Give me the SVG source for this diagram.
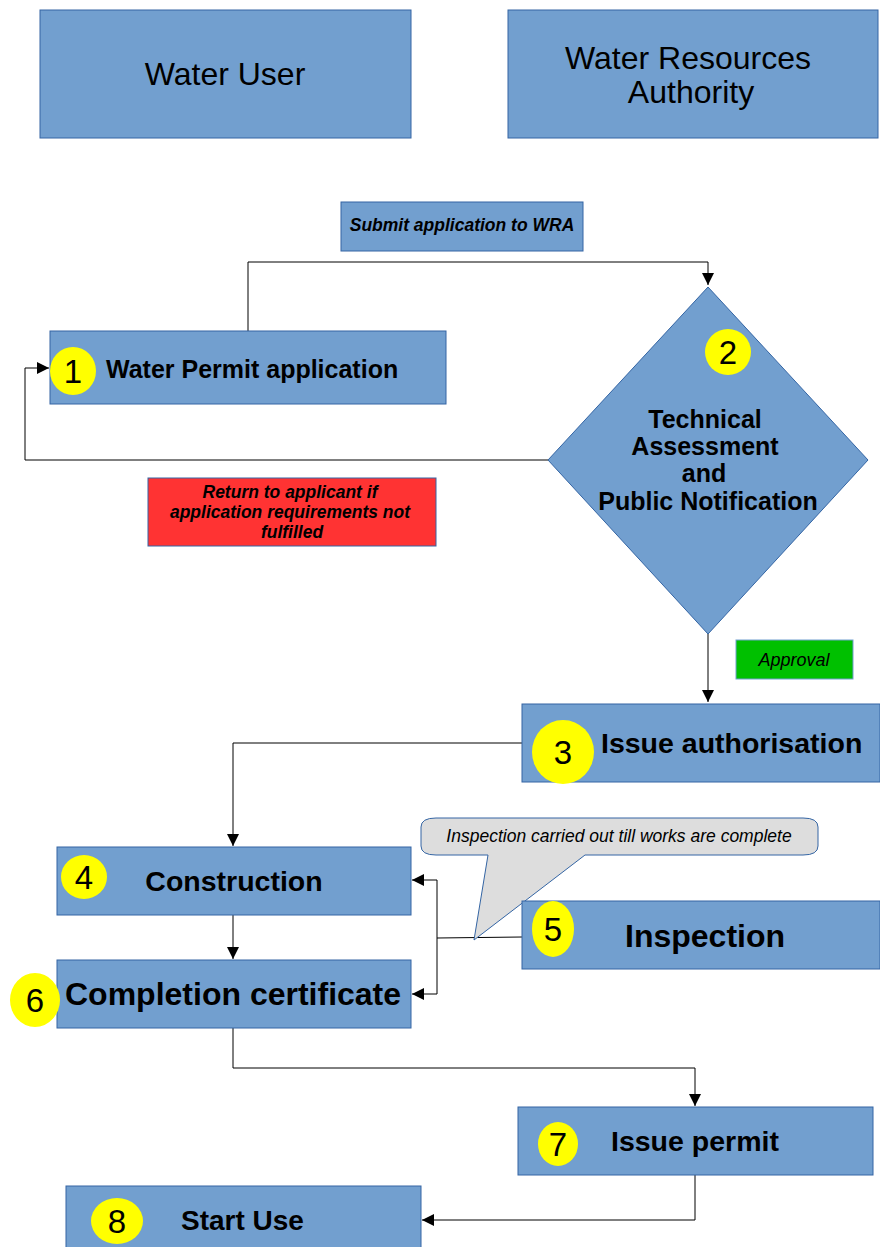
<svg xmlns="http://www.w3.org/2000/svg" width="880" height="1247" viewBox="0 0 880 1247">
<style>
.box{fill:#729fcf;stroke:#3465a4;stroke-width:1}
.num{fill:#ffff00;stroke:none}
text{font-family:"Liberation Sans",Arial,sans-serif;fill:#000}
.b{font-weight:bold}
.it{font-style:italic;font-weight:bold;font-size:17.5px}
.n{font-size:33px}
.ln{fill:none;stroke:#000;stroke-width:1}
</style>
<defs>
<marker id="ah" viewBox="0 0 10 10" refX="10" refY="5" markerWidth="12" markerHeight="16" markerUnits="userSpaceOnUse" orient="auto">
<path d="M0,0 L10,5 L0,10 Z" fill="#000"/>
</marker>
</defs>
<rect width="880" height="1247" fill="#fff"/>

<g id="connectors">
<path class="ln" d="M248,331 V262 H708 V285" marker-end="url(#ah)"/>
<path class="ln" d="M548,460 H25 V368 H49" marker-end="url(#ah)"/>
<path class="ln" d="M708,634 V702" marker-end="url(#ah)"/>
<path class="ln" d="M522,743 H233 V846" marker-end="url(#ah)"/>
<path class="ln" d="M233,915 V959" marker-end="url(#ah)"/>
<path class="ln" d="M522,937 L437,938"/>
<path class="ln" d="M437,880 H412" marker-end="url(#ah)"/>
<path class="ln" d="M437,880 V994 H412" marker-end="url(#ah)"/>
<path class="ln" d="M233,1028 V1068 H695 V1106" marker-end="url(#ah)"/>
<path class="ln" d="M695,1175 V1220 H422" marker-end="url(#ah)"/>
</g>

<g id="water-user">
<rect class="box" x="40" y="10" width="371" height="128"/>
<text x="225" y="85" font-size="32" text-anchor="middle">Water User</text>
</g>
<g id="wra">
<rect class="box" x="508" y="10" width="370" height="128"/>
<text x="688" y="69" font-size="32" text-anchor="middle">Water Resources</text>
<text x="691" y="103" font-size="32" text-anchor="middle">Authority</text>
</g>

<g id="submit-label">
<rect class="box" x="341" y="202" width="242" height="49"/>
<text class="it" x="462" y="231" text-anchor="middle">Submit application to WRA</text>
</g>

<g id="n1">
<rect class="box" x="50" y="331" width="396" height="73"/>
<ellipse class="num" cx="73" cy="371" rx="23" ry="24"/>
<text class="n" x="73" y="383" text-anchor="middle">1</text>
<text class="b" x="106" y="378" font-size="25">Water Permit application</text>
</g>

<g id="n2">
<polygon class="box" points="708,287 868,460 708,634 548,460"/>
<ellipse class="num" cx="728" cy="352" rx="23" ry="23"/>
<text class="n" x="728" y="364" text-anchor="middle">2</text>
<text class="b" font-size="25" text-anchor="middle" x="705" y="428">Technical</text>
<text class="b" font-size="25" text-anchor="middle" x="705" y="455">Assessment</text>
<text class="b" font-size="25" text-anchor="middle" x="704" y="482">and</text>
<text class="b" font-size="25" text-anchor="middle" x="708" y="510">Public Notification</text>
</g>

<g id="return-label">
<rect x="148" y="478" width="288" height="68" fill="#ff3333" stroke="#3465a4" stroke-width="1"/>
<text class="it" x="290" y="498" text-anchor="middle">Return to applicant if</text>
<text class="it" x="290" y="518" text-anchor="middle">application requirements not</text>
<text class="it" x="292" y="538" text-anchor="middle">fulfilled</text>
</g>

<g id="approval-label">
<rect x="736" y="640" width="117" height="39" fill="#00c000" stroke="#729fcf" stroke-width="1"/>
<text x="794" y="666" font-size="18" font-style="italic" text-anchor="middle">Approval</text>
</g>

<g id="n3">
<rect class="box" x="522" y="704" width="358" height="78"/>
<ellipse class="num" cx="563" cy="752" rx="31" ry="32"/>
<text class="n" x="563" y="764" text-anchor="middle">3</text>
<text class="b" x="601" y="753" font-size="28.5">Issue authorisation</text>
</g>

<g id="n4">
<rect class="box" x="57" y="847" width="354" height="68"/>
<ellipse class="num" cx="84" cy="877" rx="23" ry="22"/>
<text class="n" x="84" y="889" text-anchor="middle">4</text>
<text class="b" x="234" y="891" font-size="28.5" text-anchor="middle">Construction</text>
</g>

<g id="callout">
<path d="M436,818 H803 Q818,818 818,827 V846 Q818,855 803,855 H585 L474,940 L488,855 H436 Q421,855 421,846 V827 Q421,818 436,818 Z" fill="#dddddd" stroke="#3465a4" stroke-width="1"/>
<text x="619" y="842" font-size="17.5" font-style="italic" text-anchor="middle">Inspection carried out till works are complete</text>
</g>

<g id="n5">
<rect class="box" x="522" y="901" width="358" height="68"/>
<ellipse class="num" cx="553" cy="929" rx="21" ry="28"/>
<text class="n" x="553" y="941" text-anchor="middle">5</text>
<text class="b" x="625" y="947" font-size="32">Inspection</text>
</g>

<g id="n6">
<rect class="box" x="57" y="960" width="354" height="68"/>
<ellipse class="num" cx="35" cy="1000" rx="25" ry="27"/>
<text class="n" x="35" y="1012" text-anchor="middle">6</text>
<text class="b" x="65" y="1005" font-size="32">Completion certificate</text>
</g>

<g id="n7">
<rect class="box" x="518" y="1107" width="355" height="68"/>
<ellipse class="num" cx="558" cy="1144" rx="20" ry="22"/>
<text class="n" x="558" y="1156" text-anchor="middle">7</text>
<text class="b" x="611" y="1151" font-size="28.5">Issue permit</text>
</g>

<g id="n8">
<rect class="box" x="66" y="1186" width="355" height="70"/>
<ellipse class="num" cx="117" cy="1221" rx="26" ry="23"/>
<text class="n" x="117" y="1233" text-anchor="middle">8</text>
<text class="b" x="181" y="1230" font-size="28">Start Use</text>
</g>
</svg>
